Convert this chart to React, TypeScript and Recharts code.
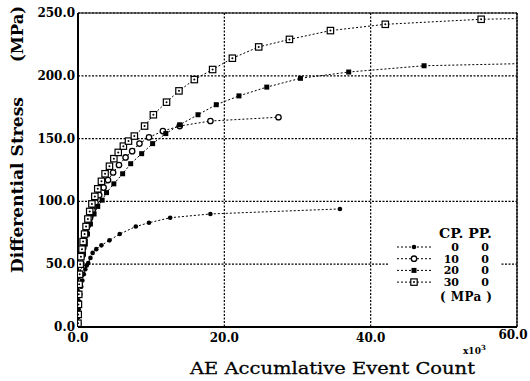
import React from 'react';
import { LineChart, Line, XAxis, YAxis, CartesianGrid, ReferenceLine } from 'recharts';

// AE accumulative event count (x10^3) vs differential stress (MPa)
const cp0Count = [0, 0.05, 0.1, 0.2, 0.3, 0.45, 0.6, 0.8, 1.0, 1.2, 1.4, 1.7, 2.0, 2.5, 3.2, 4.3, 5.7, 7.9, 9.7, 12.6, 18.1, 35.8];
const cp0Stress = [2, 8, 14, 20, 26, 32, 37, 42, 46, 49, 51, 55, 59, 62, 65, 69, 74, 80, 83, 87, 90, 94];

const cp10Count = [0, 0.04, 0.08, 0.13, 0.2, 0.3, 0.42, 0.56, 0.72, 0.9, 1.1, 1.35, 1.65, 2.0, 2.4, 2.9, 3.5, 4.1, 4.8, 5.6, 6.5, 7.4, 8.4, 9.7, 11.6, 13.9, 18.1, 27.4];
const cp10Stress = [3, 10, 18, 26, 34, 42, 50, 57, 63, 69, 75, 81, 87, 93, 99, 105, 111, 117, 123, 129, 135, 140, 146, 151, 156, 160, 164, 167];

const cp20Count = [0, 0.05, 0.1, 0.18, 0.28, 0.4, 0.55, 0.75, 1.0, 1.3, 1.7, 2.2, 2.7, 3.3, 3.9, 4.9, 6.1, 7.2, 8.7, 10.2, 12.0, 13.9, 16.4, 18.9, 22.0, 25.8, 30.4, 37.0, 47.3, 63];
const cp20Stress = [2, 10, 18, 26, 34, 42, 50, 58, 66, 74, 82, 90, 96, 101, 107, 114, 122, 130, 138, 146, 154, 161, 169, 177, 184, 191, 198, 203, 208, 210];

const cp30Count = [0, 0.03, 0.06, 0.1, 0.15, 0.22, 0.3, 0.4, 0.55, 0.7, 0.9, 1.1, 1.35, 1.6, 1.9, 2.3, 2.7, 3.2, 3.7, 4.3, 4.9, 5.5, 6.2, 6.9, 7.7, 9.1, 10.3, 12.1, 13.8, 15.9, 18.4, 21.1, 24.7, 28.9, 34.5, 42.0, 55.1, 64];
const cp30Stress = [3, 10, 18, 26, 34, 42, 50, 56, 62, 68, 74, 80, 86, 92, 98, 104, 110, 116, 122, 128, 134, 139, 144, 148, 152, 160, 169, 179, 188, 197, 205, 214, 223, 229, 236, 241, 245, 246];

const xTicks = [0, 20, 40, 60];
const yTicks = [0, 50, 100, 150, 200, 250];

const legendRows = [
  { cp: '0', pp: '0' },
  { cp: '10', pp: '0' },
  { cp: '20', pp: '0' },
  { cp: '30', pp: '0' },
];

const toRows = (xs: number[], ys: number[]) => xs.map((x, i) => ({ x, s: ys[i] }));

const serif = '"DejaVu Serif", serif';

const FilledCircle = (p: any) => <circle key={p.index} cx={p.cx} cy={p.cy} r={2.3} fill="#000" />;
const OpenCircle = (p: any) => (
  <circle key={p.index} cx={p.cx} cy={p.cy} r={2.7} fill="#fff" stroke="#000" strokeWidth={1.3} />
);
const FilledSquare = (p: any) => <rect key={p.index} x={p.cx - 2.5} y={p.cy - 2.5} width={5} height={5} fill="#000" />;
const OpenSquare = (p: any) => (
  <g key={p.index}>
    <rect x={p.cx - 3.2} y={p.cy - 3.2} width={6.4} height={6.4} fill="#fff" stroke="#000" strokeWidth={1.2} />
    <circle cx={p.cx} cy={p.cy} r={1} fill="#000" />
  </g>
);

const markers = [FilledCircle, OpenCircle, FilledSquare, OpenSquare];

const XTick = (p: any) => {
  const v = p.payload.value;
  return (
    <text x={p.x - (v === 60 ? 4 : 0)} y={p.y - (v === 60 ? 3 : 0)} dy={9} textAnchor="middle" fontFamily={serif} fontSize={12} fontWeight="bold" fill="#000">
      {v.toFixed(1)}
    </text>
  );
};

const YTick = (p: any) => (
  <text x={p.x} y={p.y} dy={4} textAnchor="end" fontFamily={serif} fontSize={12} fontWeight="bold" fill="#000">
    {p.payload.value.toFixed(1)}
  </text>
);

const App: React.FC = () => {
  const series = [
    toRows(cp0Count, cp0Stress),
    toRows(cp10Count, cp10Stress),
    toRows(cp20Count, cp20Stress),
    toRows(cp30Count, cp30Stress),
  ];

  return (
    <div style={{ position: 'absolute', left: 0, top: 0, width: 530, height: 381, background: '#fff' }}>
      <LineChart width={530} height={381} margin={{ top: 13, right: 13, bottom: 24, left: 0 }}>
        <CartesianGrid stroke="#000" strokeDasharray="2 1.5" strokeWidth={1.2} />
        <XAxis
          type="number"
          dataKey="x"
          domain={[0, 60]}
          ticks={xTicks}
          allowDataOverflow
          tickLine={false}
          tickSize={0}
          tickMargin={6}
          height={30}
          axisLine={{ stroke: '#000', strokeWidth: 2 }}
          tick={<XTick />}
        />
        <YAxis
          type="number"
          domain={[0, 250]}
          ticks={yTicks}
          allowDataOverflow
          tickLine={false}
          tickSize={0}
          tickMargin={3}
          width={78}
          axisLine={{ stroke: '#000', strokeWidth: 2 }}
          tick={<YTick />}
        />
        <ReferenceLine y={250} stroke="#000" strokeWidth={1} />
        <ReferenceLine x={60} stroke="#000" strokeWidth={1.2} />
        {series.map((d, i) => (
          <Line
            key={i}
            data={d}
            dataKey="s"
            type="linear"
            stroke="#000"
            strokeWidth={1}
            strokeDasharray="2 2"
            dot={markers[i]}
            activeDot={false}
            isAnimationActive={false}
          />
        ))}
      </LineChart>

      <svg width={530} height={381} style={{ position: 'absolute', left: 0, top: 0, pointerEvents: 'none' }}>
        <text
          transform="translate(23,185) rotate(-90)"
          textAnchor="middle"
          fontFamily={serif}
          fontSize={16}
          fontWeight="bold"
          fill="#000"
          textLength={176}
          lengthAdjust="spacingAndGlyphs"
        >
          Differential Stress
        </text>
        <text
          transform="translate(23,34) rotate(-90)"
          textAnchor="middle"
          fontFamily={serif}
          fontSize={16}
          fontWeight="bold"
          fill="#000"
          textLength={56}
          lengthAdjust="spacingAndGlyphs"
        >
          (MPa)
        </text>
        <text
          x={190}
          y={374}
          fontFamily={serif}
          fontSize={17.5}
          fill="#000"
          stroke="#000"
          strokeWidth={0.3}
          textLength={285}
          lengthAdjust="spacingAndGlyphs"
        >
          AE Accumlative Event Count
        </text>
        <text x={463} y={354} fontFamily={serif} fontSize={9} fontWeight="bold" fill="#000">
          x10<tspan dy={-4} fontSize={7}>3</tspan>
        </text>

        <g>
          <rect x={388} y={222} width={112} height={90} fill="#fff" />
          <text x={439} y={238} fontFamily={serif} fontSize={12} fontWeight="bold" fill="#000" textLength={53} lengthAdjust="spacingAndGlyphs">
            CP. PP.
          </text>
          {legendRows.map((r, i) => {
            const y = 247 + i * 11.7;
            const M = markers[i];
            return (
              <g key={i}>
                <line x1={397} x2={432} y1={y} y2={y} stroke="#000" strokeWidth={1} strokeDasharray="2 2" />
                <M cx={414} cy={y} index={i} />
                <text x={459} y={y + 4} textAnchor="end" fontFamily={serif} fontSize={11} fontWeight="bold" fill="#000">
                  {r.cp}
                </text>
                <text x={485} y={y + 4} textAnchor="middle" fontFamily={serif} fontSize={11} fontWeight="bold" fill="#000">
                  {r.pp}
                </text>
              </g>
            );
          })}
          <text x={440} y={301} fontFamily={serif} fontSize={12} fontWeight="bold" fill="#000" textLength={52} lengthAdjust="spacing">
            ( MPa )
          </text>
        </g>
      </svg>
    </div>
  );
};

export default App;
